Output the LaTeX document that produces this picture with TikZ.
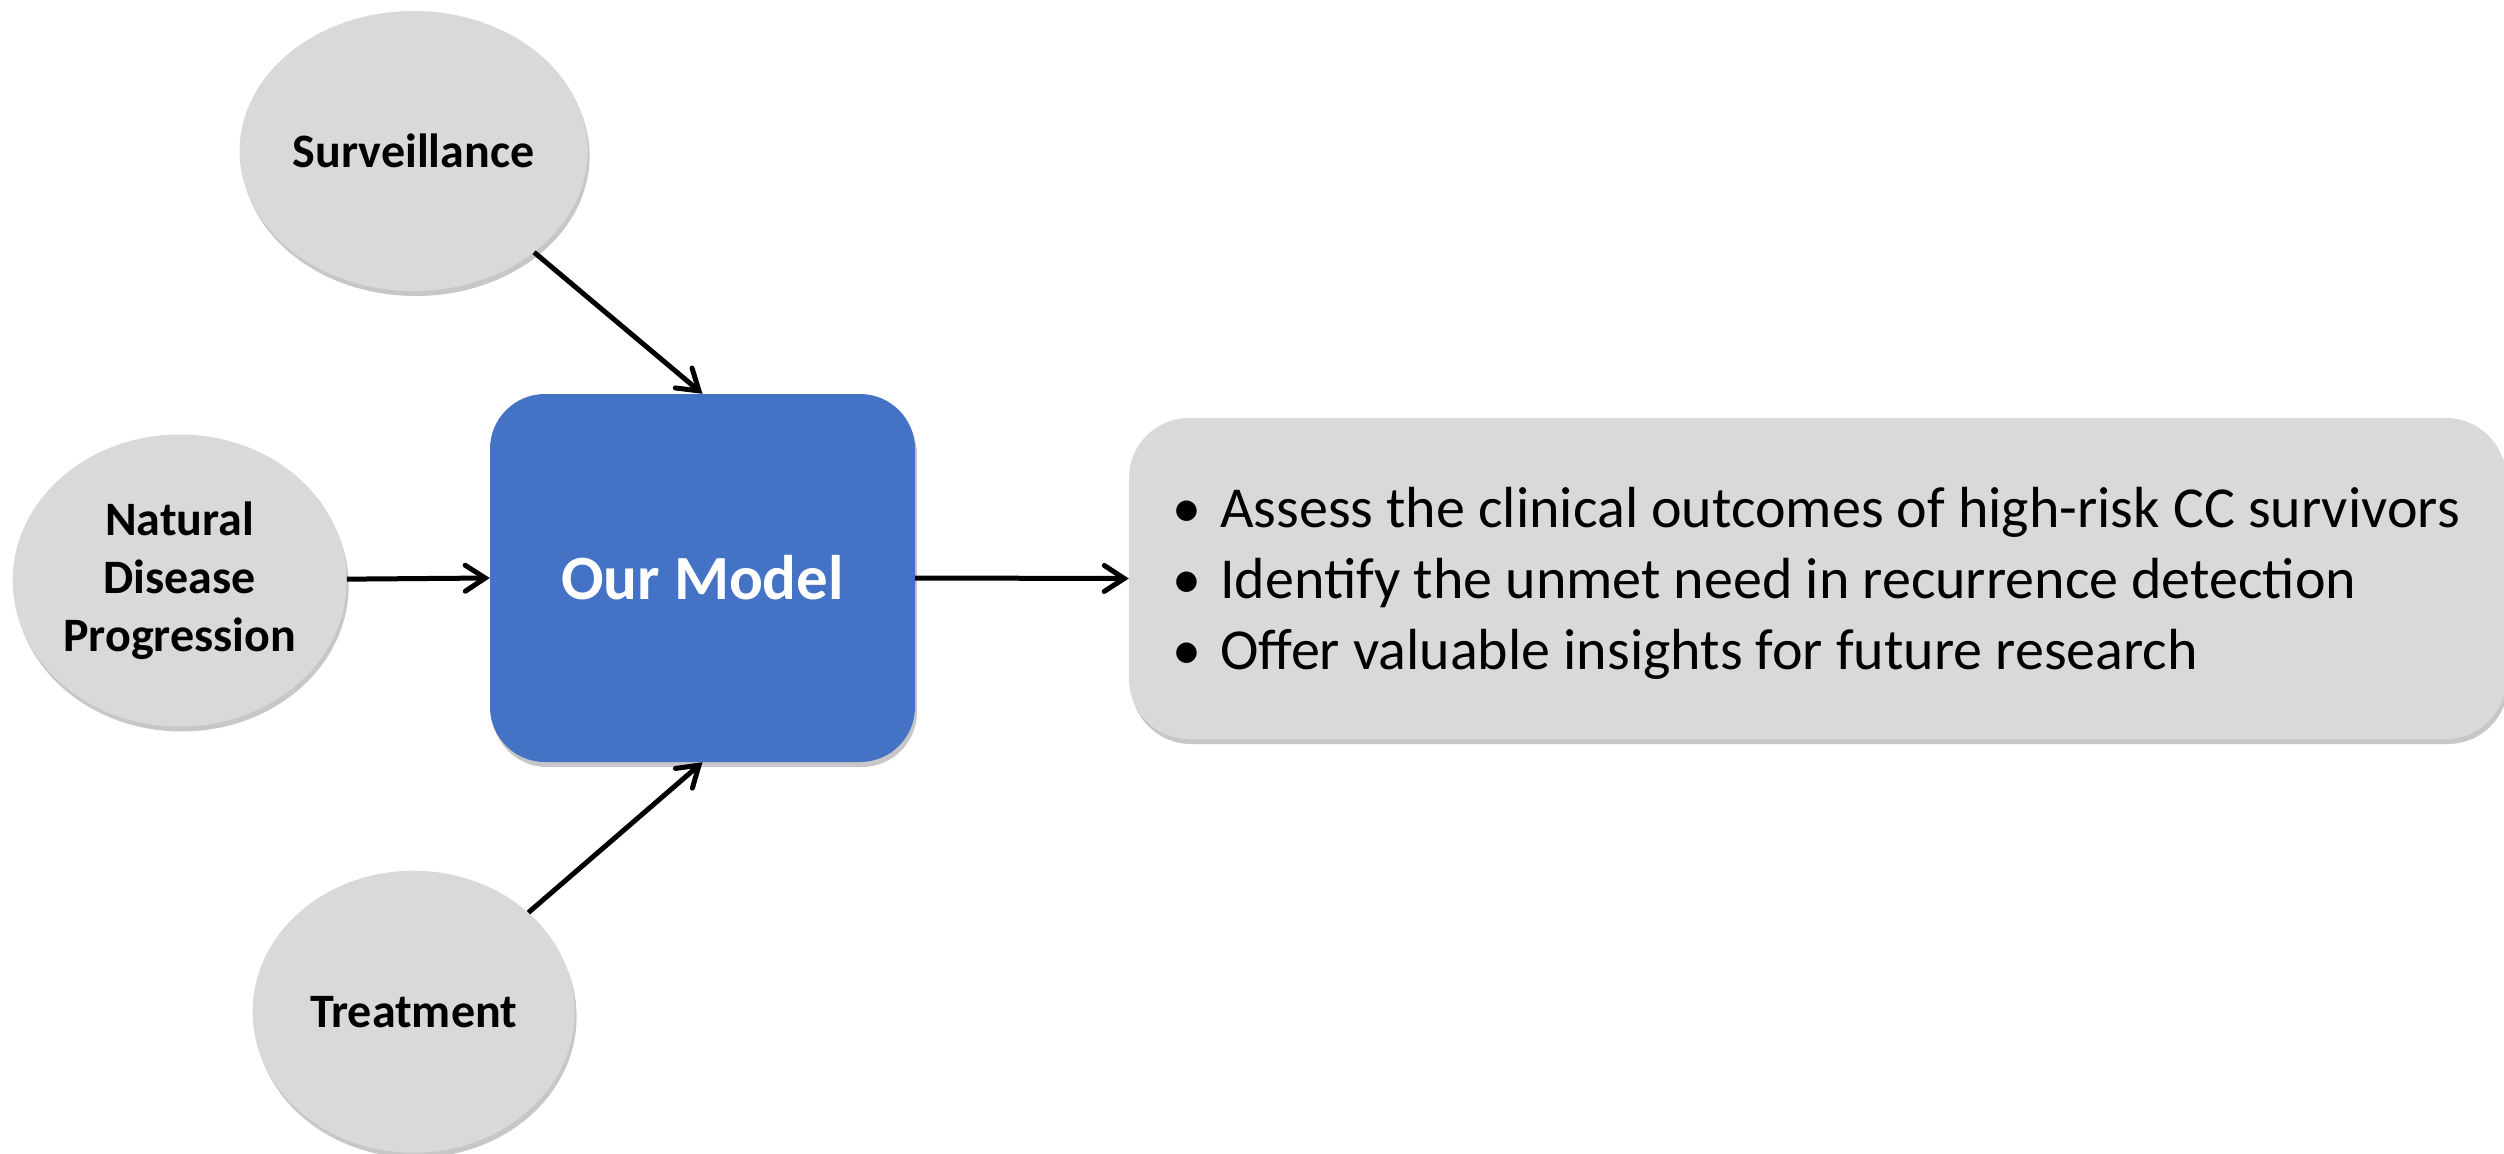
\documentclass[tikz,border=0pt]{standalone}
\usepackage{fontspec}
\setmainfont{Carlito}
\usetikzlibrary{shapes.geometric,arrows.meta,shadows}
\definecolor{nodegray}{HTML}{D9D9D9}
\definecolor{modelblue}{HTML}{4472C4}
\begin{document}
\begin{tikzpicture}[x=1pt,y=-1pt,
  shade/.style={drop shadow={shadow xshift=2pt,shadow yshift=-5pt,opacity=0.22,fill=black}},
  factor/.style={ellipse,fill=nodegray,inner sep=0pt,shade,align=center,
    font=\fontsize{48}{58}\selectfont\bfseries},
  modelbox/.style={rectangle,rounded corners=55pt,fill=modelblue,shade,
    minimum width=425pt,minimum height=368pt,inner sep=0pt,text=white,
    font=\fontsize{63}{75}\selectfont\bfseries},
  outbox/.style={rectangle,rounded corners=60pt,fill=nodegray,shade,
    minimum width=1377pt,minimum height=321pt,inner sep=0pt},
  outtext/.style={anchor=west,inner sep=0pt,align=left,
    font=\fontsize{58}{71}\selectfont},
  link/.style={line width=5pt,-{Straight Barb[length=20pt,width=26pt,line width=5pt,line cap=round]}}
]
\useasboundingbox (0,0) rectangle (2504,1154);
\node[factor,minimum width=348pt,minimum height=280pt] (surv) at (413.6,151) {Surveillance};
\node[factor,minimum width=334pt,minimum height=292pt] (nat) at (179.7,580.5) {Natural\\Disease\\Progression};
\node[factor,minimum width=322pt,minimum height=282pt] (treat) at (413.6,1011.7) {Treatment};
\node[modelbox] (model) at (702.5,578) {Our Model};
\node[outbox] (out) at (1817.5,578.5) {};
\node[outtext] (outtxt) at (1172,583) {%
  •\hspace{0.33em}Assess the clinical outcomes of high-risk CC survivors\\
  •\hspace{0.33em}Identify the unmet need in recurrence detection\\
  •\hspace{0.33em}Offer valuable insights for future research};
\draw[link] (surv) -- (model.north);
\draw[link] (nat) -- (model.west);
\draw[link] (treat) -- (model.south);
\draw[link] (model.east) -- (out.west);
\end{tikzpicture}
\end{document}
